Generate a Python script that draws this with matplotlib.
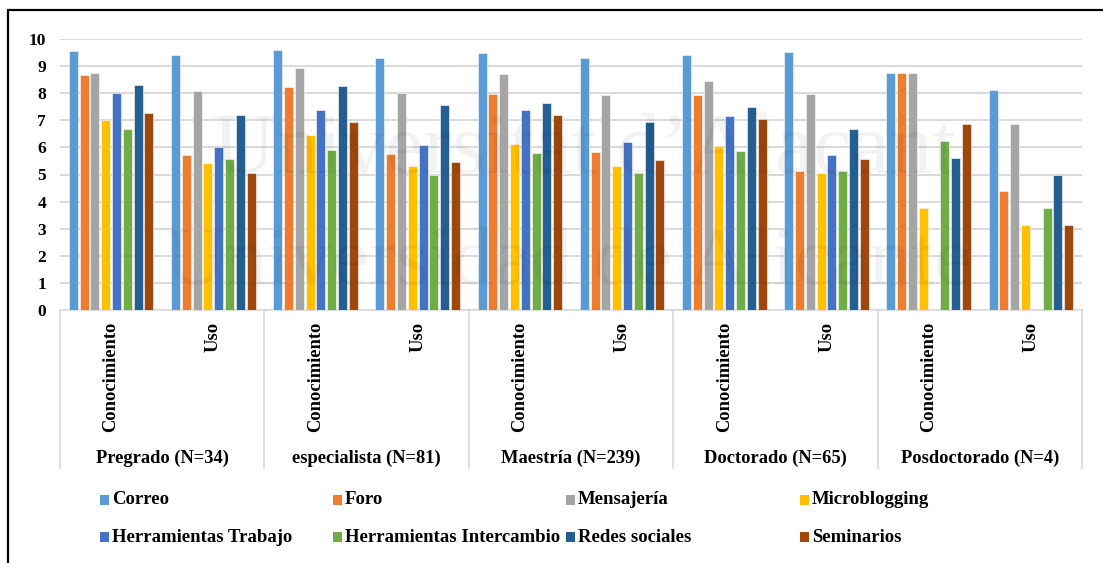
import matplotlib
matplotlib.use("Agg")
import matplotlib.pyplot as plt
from matplotlib.patches import Rectangle
import numpy as np

# Education levels and the two measures shown for each
groups = ["Pregrado (N=34)", "especialista (N=81)", "Maestría (N=239)",
          "Doctorado (N=65)", "Posdoctorado (N=4)"]
measures = ["Conocimiento", "Uso"]

series = ["Correo", "Foro", "Mensajería", "Microblogging",
          "Herramientas Trabajo", "Herramientas Intercambio",
          "Redes sociales", "Seminarios"]

# Mean scores, order: Pregrado C, Pregrado U, especialista C, especialista U, ...
correo        = [9.57, 9.42, 9.58, 9.30, 9.50, 9.30, 9.40, 9.52, 8.75, 8.125]
foro          = [8.68, 5.73, 8.24, 5.77, 7.97, 5.83, 7.92, 5.12, 8.75, 4.375]
mensajeria    = [8.76, 8.09, 8.93, 8.02, 8.72, 7.92, 8.46, 7.97, 8.75, 6.875]
microblogging = [7.00, 5.44, 6.47, 5.33, 6.14, 5.30, 6.04, 5.07, 3.75, 3.125]
herr_trabajo  = [8.02, 6.03, 7.39, 6.10, 7.37, 6.19, 7.16, 5.73, 0.0, 0.0]
herr_intercambio = [6.69, 5.58, 5.89, 4.97, 5.79, 5.04, 5.85, 5.14, 6.25, 3.75]
redes         = [8.31, 7.21, 8.27, 7.56, 7.65, 6.95, 7.50, 6.69, 5.625, 5.0]
seminarios    = [7.27, 5.07, 6.94, 5.46, 7.21, 5.52, 7.06, 5.58, 6.875, 3.125]

values = [correo, foro, mensajeria, microblogging, herr_trabajo,
          herr_intercambio, redes, seminarios]
colors = ["#5B9BD5", "#ED7D31", "#A5A5A5", "#FFC000",
          "#4472C4", "#70AD47", "#255E91", "#9E480E"]

W, H = 1103, 563
fig = plt.figure(figsize=(W / 100, H / 100), dpi=100)

# frame around the figure (open at the right and bottom edges)
fig.patches.append(Rectangle((8 / W, -0.2), 1.2, 1.2 - 10 / H,
                             transform=fig.transFigure, fill=False,
                             edgecolor="black", linewidth=1.6, zorder=0))

left, right = 60 / W, 1082 / W
bottom, top = 1 - 310 / H, 1 - 39 / H
ax = fig.add_axes([left, bottom, right - left, top - bottom])

serif = "Liberation Serif"
ncat = len(groups) * len(measures)
centers = np.arange(ncat) + 0.5
slot = 10.8 / 102.2
bw = 9.0 / 102.2
for k, (name, vals, col) in enumerate(zip(series, values, colors)):
    ax.bar(centers + (k - 3.5) * slot, vals, width=bw, color=col,
           edgecolor="white", linewidth=0.4, label=name, zorder=3)

ax.set_xlim(0, ncat)
ax.set_ylim(0, 10)
ax.set_yticks(range(0, 11))
ax.set_yticklabels([str(v) for v in range(0, 11)], fontfamily=serif,
                   fontweight="bold", fontsize=12.5)
ax.tick_params(axis="y", length=0, pad=10)
ax.set_xticks([])
ax.grid(axis="y", color="#d9d9d9", linewidth=1.4, zorder=0)
for s in ["left", "right", "top"]:
    ax.spines[s].set_visible(False)
ax.spines["bottom"].set_color("#d9d9d9")
ax.spines["bottom"].set_linewidth(1.2)

# category axis: measure names (rotated) and group names below
trans = ax.get_xaxis_transform()
ax_h = 310 - 39
def ay(py):
    return (310 - py) / ax_h

for i in range(len(groups) + 1):
    ax.plot([2 * i, 2 * i], [0, ay(468)], transform=trans, color="#d9d9d9",
            linewidth=1.2, clip_on=False)
for c in range(ncat):
    ax.text(centers[c], ay(322), measures[c % 2], transform=trans,
            rotation=90, ha="center", va="top", fontfamily=serif,
            fontweight="bold", fontsize=13.3)
for i, g in enumerate(groups):
    ax.text(2 * i + 1, ay(458), g, transform=trans, ha="center",
            va="center", fontfamily=serif, fontweight="bold", fontsize=13.3)

# legend laid out in two rows of four
cols_x = [100, 333, 566, 800]
rows_y = [500, 537]
for k, (name, col) in enumerate(zip(series, colors)):
    px = cols_x[k % 4]
    py = rows_y[k // 4]
    fig.patches.append(Rectangle((px / W, 1 - (py + 5) / H), 9 / W, 10 / H,
                                 transform=fig.transFigure, facecolor=col,
                                 edgecolor="none"))
    fig.text((px + 12) / W, 1 - py / H, name, ha="left", va="center",
             fontfamily=serif, fontweight="bold", fontsize=13.5)

# faint institutional watermark
fig.text(213 / W, 1 - 152 / H, "Universitat d\u2019Alacant", fontfamily=serif,
         fontsize=62, color="black", alpha=0.05, ha="left", va="center",
         zorder=10)
fig.text(165 / W, 1 - 264 / H, "Universidad de Alicante", fontfamily=serif,
         fontsize=60, color="black", alpha=0.05, ha="left", va="center",
         zorder=10)

fig.savefig("out.png", dpi=100)
